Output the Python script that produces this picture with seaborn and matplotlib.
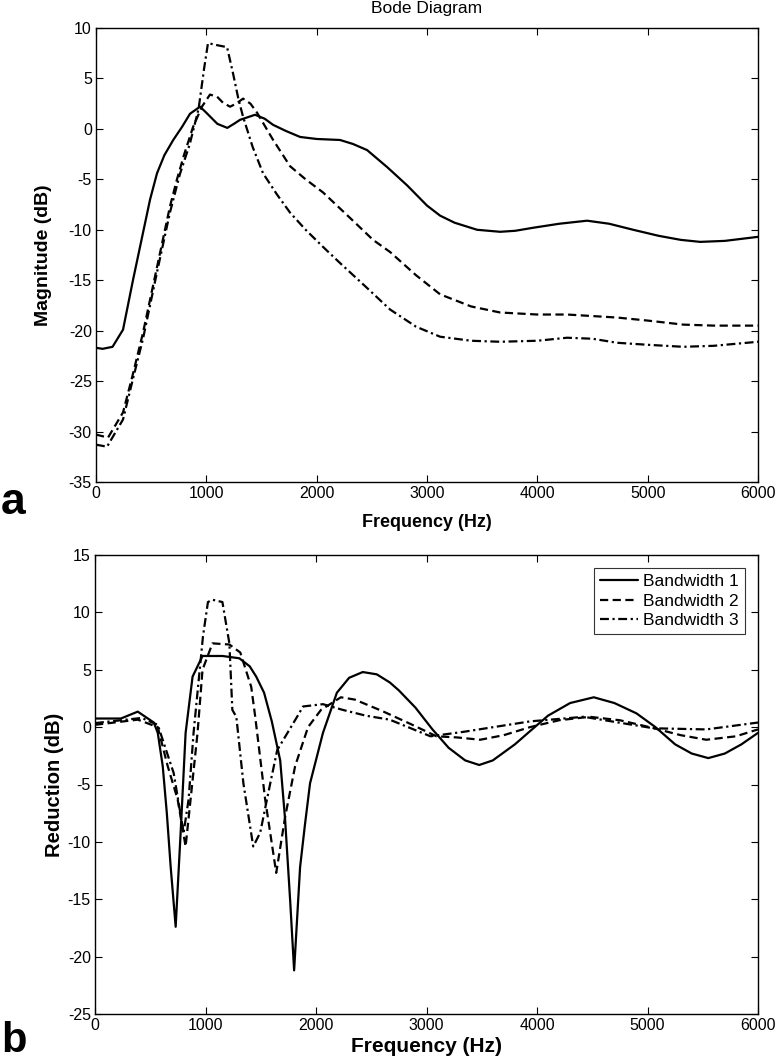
import matplotlib
matplotlib.use("Agg")
import matplotlib.pyplot as plt
import seaborn as sns

# ---------------- Data ----------------
# Panel a: Bode magnitude (dB) vs frequency (Hz)
mag_bw1_f = [0, 60, 150, 245, 335, 426, 490, 553, 620, 700, 780, 852, 943, 1000, 1100, 1190, 1250,
             1306, 1442, 1530, 1605, 1720, 1850, 2000, 2212, 2330, 2457, 2640, 2820, 3000, 3119, 3250,
             3454, 3663, 3800, 3962, 4200, 4451, 4650, 4869, 5100, 5300, 5476, 5700, 6000]
mag_bw1_v = [-21.7, -21.8, -21.6, -19.9, -15.0, -10.3, -7.0, -4.4, -2.6, -1.1, 0.2, 1.5, 2.2, 1.6, 0.5,
             0.1, 0.5, 0.9, 1.4, 1.0, 0.4, -0.2, -0.8, -1.0, -1.1, -1.5, -2.1, -3.8, -5.6, -7.6, -8.6,
             -9.3, -10.0, -10.2, -10.1, -9.8, -9.4, -9.1, -9.4, -10.0, -10.6, -11.0, -11.2, -11.1, -10.7]

mag_bw2_f = [0, 109, 245, 330, 426, 553, 670, 734, 800, 880, 960, 1033, 1097, 1150, 1215, 1270, 1333,
             1400, 1460, 1600, 1759, 1900, 2058, 2300, 2511, 2665, 2900, 3119, 3400, 3663, 4000, 4270,
             4723, 5000, 5322, 5600, 6000]
mag_bw2_v = [-30.3, -30.6, -28.1, -24.5, -20.2, -13.7, -7.7, -5.0, -2.5, 0.2, 2.2, 3.4, 3.2, 2.6, 2.2,
             2.5, 3.0, 2.5, 1.6, -1.0, -3.7, -5.0, -6.3, -8.8, -11.0, -12.2, -14.5, -16.4, -17.6, -18.2,
             -18.4, -18.4, -18.7, -19.0, -19.4, -19.5, -19.5]

mag_bw3_f = [0, 100, 245, 330, 426, 553, 670, 760, 850, 930, 980, 1015, 1097, 1188, 1242, 1290, 1333,
             1420, 1514, 1640, 1759, 1900, 2058, 2212, 2450, 2665, 2900, 3119, 3400, 3663, 4000, 4270,
             4500, 4723, 5000, 5322, 5600, 6000]
mag_bw3_v = [-31.3, -31.5, -28.8, -25.0, -20.8, -14.2, -8.3, -4.5, -1.5, 2.0, 6.0, 8.5, 8.3, 8.1, 5.5,
             3.0, 1.2, -1.8, -4.4, -6.5, -8.3, -10.0, -11.7, -13.3, -15.7, -17.9, -19.6, -20.6, -21.0,
             -21.1, -21.0, -20.7, -20.8, -21.2, -21.4, -21.6, -21.5, -21.1]

# Panel b: Reduction (dB) vs frequency (Hz)
red_bw1_f = [0, 234, 387, 532, 568, 613, 650, 685, 730, 775, 820, 883, 973, 1153, 1306, 1400, 1459,
             1530, 1600, 1676, 1720, 1766, 1802, 1856, 1900, 1946, 2063, 2189, 2300, 2423, 2550, 2667,
             2750, 2900, 3054, 3200, 3350, 3477, 3600, 3800, 3955, 4100, 4300, 4514, 4700, 4900, 5072,
             5250, 5400, 5550, 5700, 5850, 6000]
red_bw1_v = [0.75, 0.75, 1.35, 0.4, -0.5, -3.4, -7.5, -12.2, -17.4, -9.2, -0.5, 4.4, 6.2, 6.2, 6.0,
             5.3, 4.4, 3.0, 0.5, -2.9, -8.0, -15.1, -21.2, -12.2, -8.5, -4.9, -0.5, 3.0, 4.3, 4.8, 4.6,
             3.9, 3.2, 1.7, -0.2, -1.8, -2.9, -3.3, -2.9, -1.5, -0.2, 1.0, 2.1, 2.6, 2.1, 1.2, 0.0,
             -1.5, -2.3, -2.7, -2.3, -1.5, -0.5]

red_bw2_f = [0, 387, 568, 658, 748, 820, 865, 928, 973, 1063, 1216, 1315, 1414, 1450, 1540, 1640, 1721,
             1811, 1928, 2045, 2225, 2351, 2600, 2850, 3090, 3279, 3486, 3700, 3937, 4200, 4477, 4750,
             5018, 5300, 5532, 5800, 6000]
red_bw2_v = [0.2, 0.65, 0.0, -3.4, -6.3, -10.4, -6.3, -0.5, 5.0, 7.3, 7.2, 6.5, 3.5, 0.9, -6.3, -12.7,
             -7.8, -3.4, 0.0, 1.5, 2.6, 2.4, 1.4, 0.3, -0.8, -0.9, -1.1, -0.7, 0.0, 0.6, 0.9, 0.6, 0.0,
             -0.7, -1.1, -0.8, -0.2]

red_bw3_f = [0, 423, 568, 712, 802, 847, 892, 977, 1022, 1063, 1153, 1216, 1243, 1279, 1343, 1432, 1495,
             1586, 1649, 1829, 1883, 2063, 2243, 2450, 2667, 3036, 3342, 3937, 4423, 5054, 5532, 6000]
red_bw3_v = [0.35, 0.8, 0.2, -4.0, -9.2, -6.3, -0.5, 7.9, 10.9, 11.1, 10.9, 7.3, 1.5, 0.9, -4.9, -10.4,
             -9.2, -4.9, -2.0, 0.9, 1.8, 2.0, 1.5, 1.0, 0.65, -0.8, -0.4, 0.5, 0.9, -0.1, -0.2, 0.4]

series_labels = ["Bandwidth 1", "Bandwidth 2", "Bandwidth 3"]
x_ticks = [0, 1000, 2000, 3000, 4000, 5000, 6000]
mag_ticks = [10, 5, 0, -5, -10, -15, -20, -25, -30, -35]
red_ticks = [15, 10, 5, 0, -5, -10, -15, -20, -25]

# ---------------- Style ----------------
sns.set_style("ticks")
plt.rcParams["font.family"] = ["Liberation Sans", "DejaVu Sans"]
plt.rcParams["axes.unicode_minus"] = False
plt.rcParams["text.color"] = "black"
plt.rcParams["axes.labelcolor"] = "black"
plt.rcParams["xtick.color"] = "black"
plt.rcParams["ytick.color"] = "black"

W, H = 778, 1060
fig = plt.figure(figsize=(W / 100, H / 100), dpi=100)

def frac_axes(l, t, r, b):
    return fig.add_axes([l / W, 1 - b / H, (r - l) / W, (b - t) / H])

ax1 = frac_axes(96, 28, 758, 482)
ax2 = frac_axes(95, 555, 758, 1014)

LW = 1.6
styles = ["-", (0, (3.7, 2.0)), (0, (4.0, 1.6, 1.0, 1.6))]

for f, v, ls in zip([mag_bw1_f, mag_bw2_f, mag_bw3_f],
                    [mag_bw1_v, mag_bw2_v, mag_bw3_v], styles):
    sns.lineplot(x=f, y=v, ax=ax1, color="black", linestyle=ls, linewidth=LW, sort=False)

for f, v, ls, lab in zip([red_bw1_f, red_bw2_f, red_bw3_f],
                         [red_bw1_v, red_bw2_v, red_bw3_v], styles, series_labels):
    sns.lineplot(x=f, y=v, ax=ax2, color="black", linestyle=ls, linewidth=LW, sort=False, label=lab)

for ax, yt, ylim in [(ax1, mag_ticks, (-35, 10)), (ax2, red_ticks, (-25, 15))]:
    ax.set_xlim(0, 6000)
    ax.set_ylim(*ylim)
    ax.set_xticks(x_ticks)
    ax.set_yticks(yt)
    ax.tick_params(axis="both", which="both", direction="in", length=5, width=0.8,
                   top=True, right=True, labelsize=11.5, pad=3, colors="black")
    for s in ax.spines.values():
        s.set_visible(True)
        s.set_color("black")
        s.set_linewidth(1.0)

ax1.set_title("Bode Diagram", fontsize=12.5, pad=11, color="black")
ax1.set_xlabel("Frequency (Hz)", fontsize=13, fontweight="bold", labelpad=9)
ax1.set_ylabel("Magnitude (dB)", fontsize=14, fontweight="bold", labelpad=12)
ax2.set_xlabel("Frequency (Hz)", fontsize=15, fontweight="bold", labelpad=3)
ax2.set_ylabel("Reduction (dB)", fontsize=14.5, fontweight="bold", labelpad=3)

leg = ax2.legend(loc="upper right", fontsize=12.5, frameon=True, fancybox=False,
                 edgecolor="black", handlelength=2.2, handletextpad=0.3,
                 borderpad=0.35, labelspacing=0.25, borderaxespad=0.75)
leg.get_frame().set_linewidth(0.8)
for t in leg.get_texts():
    t.set_color("black")

fig.text(1 / W, 1 - 514 / H, "a", fontsize=32, fontweight="bold", va="baseline", ha="left")
fig.text(1 / W, 1 - 1052 / H, "b", fontsize=30, fontweight="bold", va="baseline", ha="left")

fig.savefig("out.png", dpi=100)
